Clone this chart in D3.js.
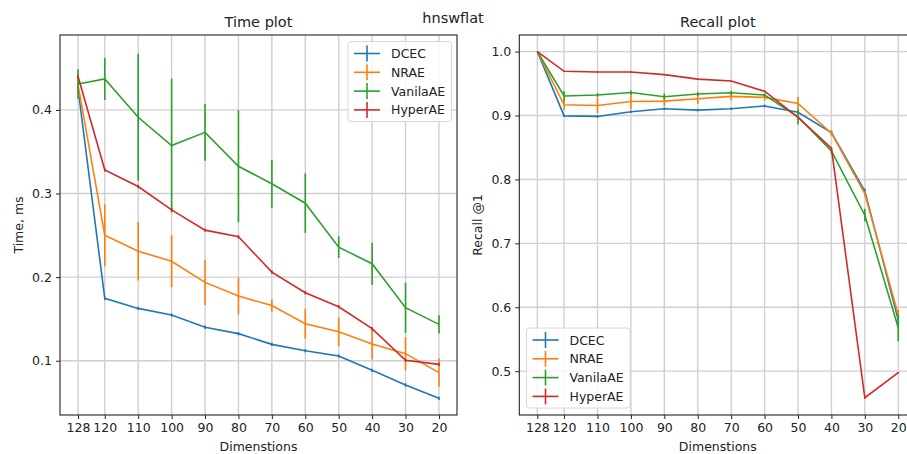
<!DOCTYPE html>
<html><head><meta charset="utf-8">
<script src="https://cdn.jsdelivr.net/npm/d3@7"></script>
<style>body{margin:0;background:#fff}text{font-family:"DejaVu Sans",sans-serif;fill:#222}</style>
</head><body><svg id="c" width="907" height="454"></svg>
<script>
const dims = [128,120,110,100,90,80,70,60,50,40,30,20];
const seriesNames = ["DCEC","NRAE","VanilaAE","HyperAE"];
const colors = ["#1f77b4","#ff7f0e","#2ca02c","#d62728"];

const timeDCEC = [0.425,0.1746,0.1626,0.1546,0.140,0.1324,0.1196,0.112,0.1056,0.0885,0.071,0.055];
const timeNRAE = [0.430,0.250,0.231,0.219,0.1937,0.1773,0.166,0.1443,0.1347,0.120,0.1085,0.0858];
const timeVanila = [0.431,0.437,0.3912,0.3573,0.3732,0.3326,0.3116,0.2884,0.2358,0.216,0.1634,0.1435];
const timeHyper = [0.440,0.3283,0.3084,0.2805,0.2562,0.2483,0.206,0.1814,0.1646,0.1384,0.1005,0.0957];
const timeErrDCEC = [0.002,0.002,0.002,0.002,0.002,0.002,0.002,0.002,0.002,0.002,0.002,0.002];
const timeErrNRAE = [0.004,0.037,0.035,0.031,0.027,0.022,0.0075,0.018,0.017,0.0185,0.020,0.017];
const timeErrVanila = [0.0175,0.025,0.076,0.080,0.034,0.067,0.0285,0.0355,0.013,0.025,0.030,0.011];
const timeErrHyper = [0.002,0.002,0.002,0.002,0.002,0.002,0.002,0.002,0.002,0.002,0.002,0.002];

const recDCEC = [1.0,0.8995,0.8986,0.9058,0.9105,0.9085,0.9105,0.915,0.905,0.8735,0.782,0.580];
const recNRAE = [1.0,0.9168,0.9158,0.922,0.9226,0.9262,0.930,0.9284,0.919,0.8724,0.7777,0.588];
const recVanila = [1.0,0.9305,0.932,0.936,0.9294,0.9336,0.9356,0.932,0.898,0.8446,0.744,0.568];
const recHyper = [1.0,0.9692,0.968,0.968,0.964,0.957,0.954,0.938,0.897,0.849,0.4584,0.4976];
const recErrDCEC = [0,0.002,0.002,0.002,0.002,0.002,0.002,0.002,0.003,0.003,0.004,0.008];
const recErrNRAE = [0,0.008,0.012,0.012,0.008,0.008,0.006,0.005,0.01,0.004,0.004,0.008];
const recErrVanila = [0,0.008,0.003,0.003,0.005,0.003,0.003,0.003,0.012,0.004,0.01,0.021];
const recErrHyper = [0,0.001,0.001,0.001,0.001,0.001,0.001,0.001,0.001,0.001,0.001,0.001];

const timeTicks = [0.1,0.2,0.3,0.4];
const recTicks = [0.5,0.6,0.7,0.8,0.9,1.0];

const svg = d3.select("#c");
svg.append("text").attr("x",453).attr("y",23).attr("text-anchor","middle").attr("font-size","14.5px").text("hnswflat");

function panel(x0, title, ylabel, ydom, yticks, vals, errs, legendPos, clipId){
  const W = 397, top = 35, bottom = 415;
  const g = svg.append("g");
  const x = d3.scaleLinear().domain([133.4,14.6]).range([x0, x0+W]);
  const y = d3.scaleLinear().domain(ydom).range([bottom, top]);
  // grid
  g.append("g").selectAll("line").data(dims).join("line")
    .attr("x1",d=>x(d)).attr("x2",d=>x(d)).attr("y1",top).attr("y2",bottom)
    .attr("stroke","#d0d0d0").attr("stroke-width",1.4);
  g.append("g").selectAll("line").data(yticks).join("line")
    .attr("x1",x0).attr("x2",x0+W).attr("y1",d=>y(d)).attr("y2",d=>y(d))
    .attr("stroke","#d0d0d0").attr("stroke-width",1.4);
  // axes
  const xa = g.append("g").attr("transform",`translate(0,${bottom})`)
    .call(d3.axisBottom(x).tickValues(dims).tickSize(4).tickPadding(4).tickFormat(d3.format("d")));
  const ya = g.append("g").attr("transform",`translate(${x0},0)`)
    .call(d3.axisLeft(y).tickValues(yticks).tickSize(4).tickPadding(4).tickFormat(d3.format(".1f")));
  [xa,ya].forEach(a=>{a.select(".domain").remove();a.selectAll("text").attr("font-size","12.5px").attr("font-family","DejaVu Sans").attr("fill","#222");a.selectAll("line").attr("stroke","#222").attr("stroke-width",1);});
  g.append("rect").attr("x",x0).attr("y",top).attr("width",W).attr("height",bottom-top)
    .attr("fill","none").attr("stroke","#222").attr("stroke-width",1.1);
  // series
  const line = d3.line().x((d,i)=>x(dims[i])).y(d=>y(d));
  vals.forEach((v,k)=>{
    g.append("path").datum(v).attr("d",line).attr("fill","none").attr("stroke",colors[k]).attr("stroke-width",1.6);
    g.append("g").selectAll("line").data(v).join("line")
      .attr("x1",(d,i)=>x(dims[i])).attr("x2",(d,i)=>x(dims[i]))
      .attr("y1",(d,i)=>y(d-errs[k][i])).attr("y2",(d,i)=>y(d+errs[k][i]))
      .attr("stroke",colors[k]).attr("stroke-width",1.6);
  });
  // titles
  g.append("text").attr("x",x0+W/2).attr("y",27).attr("text-anchor","middle").attr("font-size","14.5px").text(title);
  g.append("text").attr("x",x0+W/2).attr("y",451).attr("text-anchor","middle").attr("font-size","12.5px").text("Dimenstions");
  g.append("text").attr("transform",`translate(${x0-37},${(top+bottom)/2}) rotate(-90)`).attr("text-anchor","middle").attr("font-size","12.5px").text(ylabel);
  // legend
  const [lx,ly,lw,lh] = legendPos;
  const lg = g.append("g");
  lg.append("rect").attr("x",lx).attr("y",ly).attr("width",lw).attr("height",lh).attr("rx",3)
    .attr("fill","#fff").attr("fill-opacity",0.8).attr("stroke","#d8d8d8");
  seriesNames.forEach((n,k)=>{
    const cy = ly+12+k*18.8;
    lg.append("line").attr("x1",lx+6).attr("x2",lx+32).attr("y1",cy).attr("y2",cy).attr("stroke",colors[k]).attr("stroke-width",1.6);
    lg.append("line").attr("x1",lx+19).attr("x2",lx+19).attr("y1",cy-8).attr("y2",cy+8).attr("stroke",colors[k]).attr("stroke-width",1.6);
    lg.append("text").attr("x",lx+43).attr("y",cy+4.5).attr("font-size","12.5px").text(n);
  });
}

panel(60,"Time plot","Time, ms",[0.0351,0.4896],timeTicks,
  [timeDCEC,timeNRAE,timeVanila,timeHyper],[timeErrDCEC,timeErrNRAE,timeErrVanila,timeErrHyper],
  [348,41.5,103.5,80]);
panel(519.3,"Recall plot","Recall @1",[0.4314,1.026],recTicks,
  [recDCEC,recNRAE,recVanila,recHyper],[recErrDCEC,recErrNRAE,recErrVanila,recErrHyper],
  [526.5,328,103.5,80]);
</script></body></html>
